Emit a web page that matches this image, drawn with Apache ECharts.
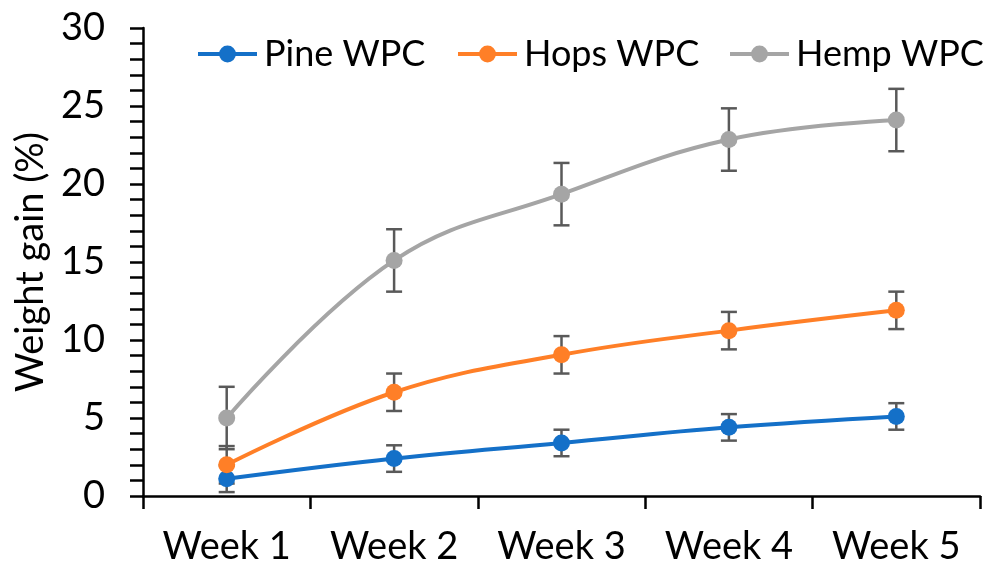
<!DOCTYPE html>
<html>
<head>
<meta charset="utf-8">
<script src="https://cdn.jsdelivr.net/npm/echarts@6/dist/echarts.min.js"></script>
<style>html,body{margin:0;padding:0;background:#fff}#c{width:995px;height:566px}</style>
</head>
<body>
<div id="c"></div>
<script>
const categories = ['Week 1', 'Week 2', 'Week 3', 'Week 4', 'Week 5'];
const seriesNames = ['Pine WPC', 'Hops WPC', 'Hemp WPC'];
const pineValues = [1.1, 2.4, 3.4, 4.4, 5.1];
const hopsValues = [2.0, 6.65, 9.05, 10.6, 11.9];
const hempValues = [5.0, 15.1, 19.35, 22.85, 24.1];
const pineErr = [0.85, 0.85, 0.85, 0.85, 0.85];
const hopsErr = [1.2, 1.2, 1.2, 1.2, 1.2];
const hempErr = [2.0, 2.0, 2.0, 2.0, 2.0];
const yTicks = { min: 0, max: 30, interval: 5 };
const colors = ['#1470C8', '#FF7F27', '#A5A5A5'];

const FONT = 'Lato';
const chart = echarts.init(document.getElementById('c'), null, { renderer: 'canvas' });

function errorSeries(vals, errs) {
  const data = vals.map((v, i) => [i, v - errs[i], v + errs[i]]);
  return {
    type: 'custom',
    z: 1,
    silent: true,
    data: data,
    renderItem: function (params, api) {
      const x = api.value(0);
      const lo = api.coord([x, api.value(1)]);
      const hi = api.coord([x, api.value(2)]);
      const w = 8;
      const style = { stroke: '#595959', lineWidth: 2.5, fill: null };
      return {
        type: 'group',
        children: [
          { type: 'line', shape: { x1: hi[0], y1: hi[1], x2: lo[0], y2: lo[1] }, style: style },
          { type: 'line', shape: { x1: hi[0] - w, y1: hi[1], x2: hi[0] + w, y2: hi[1] }, style: style },
          { type: 'line', shape: { x1: lo[0] - w, y1: lo[1], x2: lo[0] + w, y2: lo[1] }, style: style }
        ]
      };
    }
  };
}

function lineSeries(name, vals, color) {
  return {
    name: name,
    type: 'line',
    z: 3,
    data: vals,
    smooth: 0.4,
    symbol: 'circle',
    symbolSize: 17,
    showSymbol: true,
    itemStyle: { color: color },
    lineStyle: { color: color, width: 4 }
  };
}

const legendLefts = [196, 456, 728];
function legendFor(i) {
  return {
    data: [seriesNames[i]],
    left: legendLefts[i],
    top: 36,
    itemWidth: 59,
    itemHeight: 21,
    padding: 0,
    lineStyle: { width: 4 },
    textStyle: { fontFamily: FONT, fontSize: 36, color: '#000', padding: [0, 0, 0, 2] }
  };
}

chart.setOption({
  animation: false,
  textStyle: { fontFamily: FONT },
  grid: { left: 143, right: 15, top: 28, bottom: 69, containLabel: false },
  legend: [legendFor(0), legendFor(1), legendFor(2)],
  xAxis: {
    type: 'category',
    data: categories,
    boundaryGap: true,
    axisLine: { lineStyle: { color: '#000', width: 2.5 } },
    axisTick: { show: true, length: 13, interval: 0, lineStyle: { color: '#000', width: 2.5 } },
    axisLabel: { interval: 0, margin: 32, fontSize: 38, color: '#000', fontFamily: FONT },
    splitLine: { show: false }
  },
  yAxis: {
    type: 'value',
    min: yTicks.min,
    max: yTicks.max,
    interval: yTicks.interval,
    name: 'Weight gain (%)',
    nameLocation: 'middle',
    nameGap: 88,
    nameTextStyle: { fontSize: 38, color: '#000', fontFamily: FONT },
    axisLine: { show: true, lineStyle: { color: '#000', width: 2.5 } },
    axisTick: { show: true, length: 13, lineStyle: { color: '#000', width: 2.5 } },
    minorTick: { show: true, splitNumber: 5, length: 13, lineStyle: { color: '#000', width: 2.5 } },
    axisLabel: { margin: 38, fontSize: 38, color: '#000', fontFamily: FONT },
    splitLine: { show: false }
  },
  series: [
    errorSeries(pineValues, pineErr),
    errorSeries(hopsValues, hopsErr),
    errorSeries(hempValues, hempErr),
    lineSeries(seriesNames[0], pineValues, colors[0]),
    lineSeries(seriesNames[1], hopsValues, colors[1]),
    lineSeries(seriesNames[2], hempValues, colors[2])
  ]
});
</script>
</body>
</html>
